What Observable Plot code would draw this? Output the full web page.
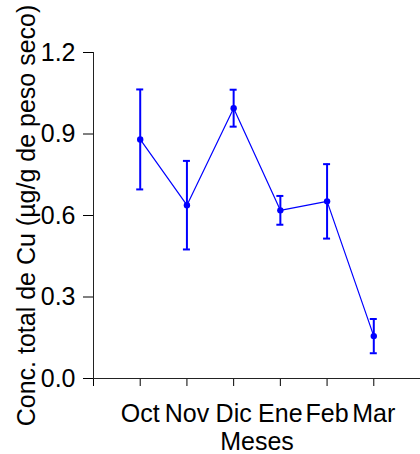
<!DOCTYPE html>
<html><head><meta charset="utf-8">
<script src="https://cdn.jsdelivr.net/npm/d3@7"></script>
<script src="https://cdn.jsdelivr.net/npm/@observablehq/plot@0.6"></script>
<style>body{margin:0;background:#fff}</style>
</head><body><div id="chart"></div>
<script>
const months = ["Oct", "Nov", "Dic", "Ene", "Feb", "Mar"];
const means = [0.880, 0.638, 0.995, 0.619, 0.652, 0.156];
const errors = [0.184, 0.163, 0.068, 0.053, 0.137, 0.063];
const yTicks = [0, 0.3, 0.6, 0.9, 1.2];
const xLabel = "Meses";
const yLabel = "Conc. total de Cu (µg/g de peso seco)";

const data = months.map((m, i) => ({pos: i + 1, month: m, mean: means[i], lo: means[i] - errors[i], hi: means[i] + errors[i]}));
const blue = "#0000ff";
const cap = 0.075;

const chart = Plot.plot({
  width: 420, height: 454,
  marginLeft: 93, marginRight: 0, marginTop: 52, marginBottom: 76,
  style: {fontFamily: "'Liberation Sans', Arial, sans-serif", fontSize: "25px", background: "#fff", color: "#000", overflow: "visible"},
  x: {type: "linear", domain: [0, 7]},
  y: {domain: [0, 1.2]},
  marks: [
    Plot.axisX({ticks: d3.range(0, 8), tickSize: 8, tickPadding: 18, tickFormat: i => months[i - 1] ?? "", label: xLabel, labelAnchor: "center", labelArrow: "none", labelOffset: 71}),
    Plot.axisY({ticks: yTicks, tickSize: 10, tickPadding: 8, tickFormat: d3.format(".1f"), label: null}),
    Plot.ruleY([0], {stroke: "#222"}),
    Plot.ruleX([0], {stroke: "#222"}),
    Plot.text([yLabel], {text: d => d, frameAnchor: "left", rotate: -90, dx: -76, dy: 0, lineAnchor: "top", textAnchor: "middle", fill: "#000"}),
    Plot.line(data, {x: "pos", y: "mean", stroke: blue, strokeWidth: 1.2}),
    Plot.ruleX(data, {x: "pos", y1: "lo", y2: "hi", stroke: blue, strokeWidth: 2}),
    Plot.ruleY(data, {y: "hi", x1: d => d.pos - cap, x2: d => d.pos + cap, stroke: blue, strokeWidth: 2}),
    Plot.ruleY(data, {y: "lo", x1: d => d.pos - cap, x2: d => d.pos + cap, stroke: blue, strokeWidth: 2}),
    Plot.dot(data, {x: "pos", y: "mean", r: 3.2, fill: blue})
  ]
});
document.getElementById("chart").appendChild(chart);
</script>
</body></html>
